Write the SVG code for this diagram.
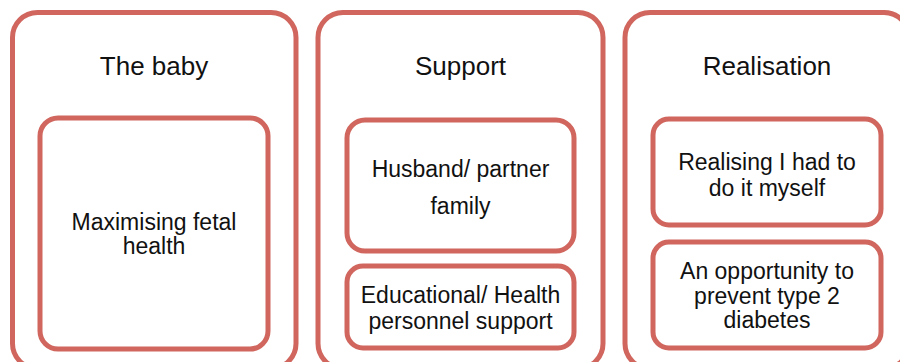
<svg xmlns="http://www.w3.org/2000/svg" width="900" height="362" viewBox="0 0 900 362">
<style>
.outer{fill:#fff;stroke:#d0665e;stroke-width:5}
.inner{fill:#fff;stroke:#d0665e;stroke-width:5}
text{font-family:"Liberation Sans",Arial,sans-serif;fill:#111;text-anchor:middle}
.title{font-size:26px}
.body{font-size:23px}
</style>
<rect width="900" height="362" fill="#fff"/>
<g id="baby">
<rect class="outer" x="12.5" y="12.5" width="283.5" height="356" rx="25"/>
<text class="title" x="154" y="75">The baby</text>
<g id="fetal">
<rect class="inner" x="40" y="118" width="228" height="231" rx="18"/>
<text class="body" x="154" y="230">Maximising fetal</text>
<text class="body" x="154" y="254">health</text>
</g>
</g>
<g id="support">
<rect class="outer" x="318" y="12.5" width="285" height="356" rx="25"/>
<text class="title" x="460.5" y="75">Support</text>
<g id="husband">
<rect class="inner" x="347" y="120" width="227" height="131" rx="18"/>
<text class="body" x="460.5" y="177">Husband/ partner</text>
<text class="body" x="460.5" y="214">family</text>
</g>
<g id="educational">
<rect class="inner" x="347" y="266" width="227" height="82" rx="16"/>
<text class="body" x="460.5" y="303">Educational/ Health</text>
<text class="body" x="460.5" y="329">personnel support</text>
</g>
</g>
<g id="realisation">
<rect class="outer" x="625" y="12.5" width="284" height="356" rx="25"/>
<text class="title" x="767" y="75">Realisation</text>
<g id="myself">
<rect class="inner" x="653" y="119" width="228" height="106" rx="16"/>
<text class="body" x="767" y="170">Realising I had to</text>
<text class="body" x="767" y="196">do it myself</text>
</g>
<g id="diabetes">
<rect class="inner" x="653" y="242" width="228" height="106" rx="16"/>
<text class="body" x="767" y="279">An opportunity to</text>
<text class="body" x="767" y="304">prevent type 2</text>
<text class="body" x="767" y="328">diabetes</text>
</g>
</g>
<g id="connectors"></g>
</svg>
